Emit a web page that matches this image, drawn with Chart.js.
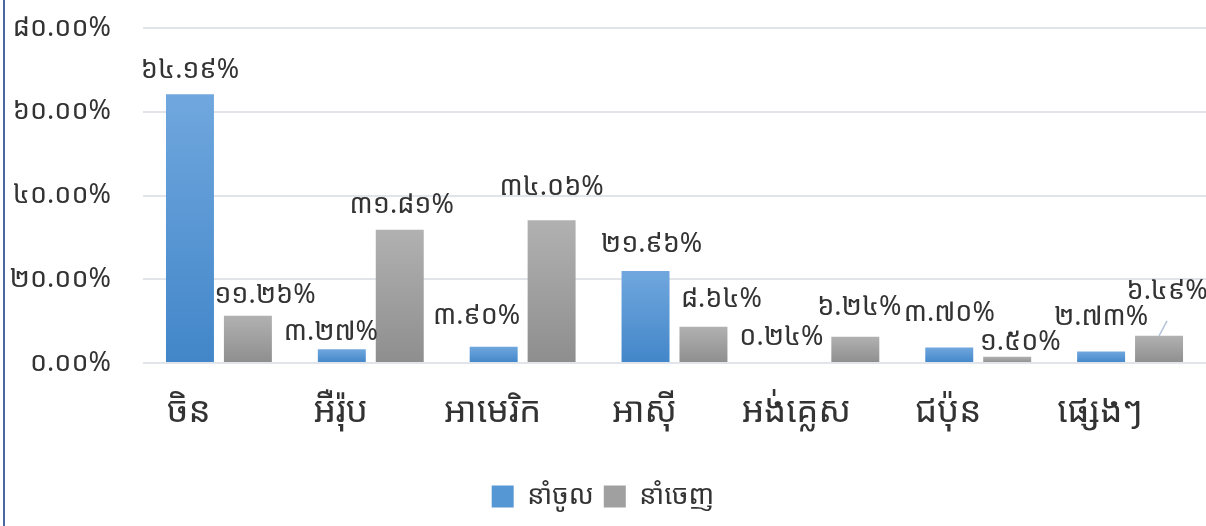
<!DOCTYPE html>
<html>
<head>
<meta charset="utf-8">
<script src="https://cdn.jsdelivr.net/npm/chart.js@4.4.1/dist/chart.umd.min.js"></script>
<style>
    html, body { margin: 0; padding: 0; background: #fff; }
    #wrap { position: relative; width: 1206px; height: 526px; }
    #edge { position: absolute; left: 3px; top: 0; width: 2px; height: 526px; background: #4a66a3; }
</style>
</head>
<body>
<div id="wrap">
    <canvas id="trade-chart" width="1206" height="526"></canvas>
    <div id="edge"></div>
</div>
<script>
'use strict';

const categories = ['ចិន', 'អឺរ៉ុប', 'អាមេរិក', 'អាស៊ី', 'អង់គ្លេស', 'ជប៉ុន', 'ផ្សេងៗ'];
const seriesNames = ['នាំចូល', 'នាំចេញ'];
const importValues = [64.19, 3.27, 3.90, 21.96, 0.24, 3.70, 2.73];
const exportValues = [11.26, 31.81, 34.06, 8.64, 6.24, 1.50, 6.49];
const yTickValues = [0, 20, 40, 60, 80];

// label nudges [dx, dy] per bar, the picture has them shifted around
const importLabelShift = [[0, -2], [-11, 5], [-17, -8], [6, -5], [-16, -3], [0, -12], [0, -12]];
const exportLabelShift = [[17, 1], [2, -2], [0, -11], [18, -6], [4, -8], [13, 8], [8, -23]];
const leaderLabels = [[1, 6]];

const khmerDigits = '០១២៣៤៥៦៧៨៩';
function toKhmer(str) {
    return String(str).replace(/[0-9]/g, d => khmerDigits[+d]);
}

const FONT = "'Khmer OS Battambang', 'Khmer OS', 'Noto Sans Khmer', 'Noto Serif Khmer', 'Noto Sans', sans-serif";
const TEXT = '#333333';

function barFill(top, bottom) {
    return function (ctx) {
        let chart = ctx.chart;
        if (ctx.type !== 'data' || !chart.chartArea || !chart.scales.y) return bottom;
        let y = chart.scales.y;
        let yTop = y.getPixelForValue(ctx.parsed.y);
        let yBase = y.getPixelForValue(0);
        if (!isFinite(yTop) || Math.abs(yBase - yTop) < 1) return bottom;
        let g = chart.ctx.createLinearGradient(0, yTop, 0, yBase);
        g.addColorStop(0, top);
        g.addColorStop(1, bottom);
        return g;
    };
}

const valueLabels = {
    id: 'valueLabels',
    afterDatasetsDraw(chart) {
        let ctx = chart.ctx;
        ctx.save();
        ctx.font = '27px ' + FONT;
        ctx.fillStyle = TEXT;
        ctx.textAlign = 'center';
        ctx.textBaseline = 'middle';
        chart.data.datasets.forEach((ds, di) => {
            let meta = chart.getDatasetMeta(di);
            let shifts = di === 0 ? importLabelShift : exportLabelShift;
            meta.data.forEach((bar, i) => {
                let s = shifts[i] || [0, 0];
                let x = bar.x + s[0];
                let y = bar.y - 22 + s[1];
                let isLeader = leaderLabels.some(l => l[0] === di && l[1] === i);
                if (isLeader) {
                    ctx.save();
                    ctx.strokeStyle = '#b4c3d6';
                    ctx.lineWidth = 1.5;
                    ctx.beginPath();
                    ctx.moveTo(bar.x, bar.y);
                    ctx.lineTo(bar.x + 8, bar.y - 15);
                    ctx.stroke();
                    ctx.restore();
                }
                ctx.fillText(toKhmer(ds.data[i].toFixed(2)) + '%', x, y);
            });
        });
        ctx.restore();
    },
};

const ctx = document.getElementById('trade-chart').getContext('2d');

window.tradeChart = new Chart(ctx, {
    type: 'bar',
    data: {
        labels: categories,
        datasets: [
            {
                label: seriesNames[0],
                data: importValues,
                backgroundColor: barFill('#70a7de', '#4286c9'),
                legendColor: '#5596d4',
                categoryPercentage: 0.763,
                barPercentage: 0.828,
            },
            {
                label: seriesNames[1],
                data: exportValues,
                backgroundColor: barFill('#b1b1b1', '#8e8e8e'),
                legendColor: '#a0a0a0',
                categoryPercentage: 0.763,
                barPercentage: 0.828,
            }],
    },
    options: {
        responsive: false,
        animation: false,
        layout: { padding: { top: 28, right: 0, bottom: 6, left: 0 } },
        scales: {
            x: {
                grid: { display: false },
                border: { display: false },
                ticks: {
                    font: { size: 35, family: FONT },
                    color: TEXT,
                    padding: 20,
                    labelOffset: -30,
                    maxRotation: 0,
                    autoSkip: false,
                },
                afterFit: function (scale) { scale.height = 110; },
            },
            y: {
                min: 0,
                max: 80,
                afterBuildTicks: function (scale) {
                    scale.ticks = yTickValues.map(v => ({ value: v }));
                },
                grid: { color: '#e1e5ea', lineWidth: 2, drawTicks: false },
                border: { display: false },
                ticks: {
                    font: { size: 27, family: FONT },
                    color: TEXT,
                    padding: 32,
                    callback: value => toKhmer(value.toFixed(2)) + '%',
                },
                afterFit: function (scale) {
                    scale.width = 143;
                    scale.paddingTop = 0;
                    scale.paddingBottom = 0;
                },
            },
        },
        plugins: {
            legend: {
                position: 'bottom',
                labels: {
                    font: { size: 27, family: FONT },
                    color: TEXT,
                    boxWidth: 22,
                    boxHeight: 22,
                    padding: 10,
                    generateLabels: function (chart) {
                        return chart.data.datasets.map((ds, i) => ({
                            text: ds.label,
                            fillStyle: ds.legendColor,
                            strokeStyle: ds.legendColor,
                            lineWidth: 0,
                            fontColor: TEXT,
                            datasetIndex: i,
                        }));
                    },
                },
            },
            tooltip: { enabled: false },
        },
    },
    plugins: [valueLabels],
});
</script>
</body>
</html>
